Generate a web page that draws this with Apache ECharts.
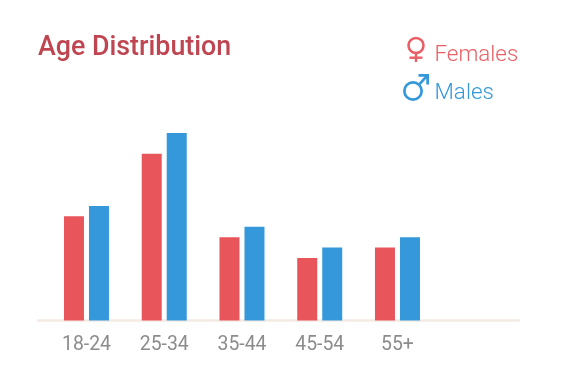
<!DOCTYPE html>
<html>
<head>
<meta charset="utf-8">
<style>html,body{margin:0;padding:0;background:#fff}#c{width:576px;height:390px}</style>
<script src="https://cdn.jsdelivr.net/npm/echarts@6/dist/echarts.min.js"></script>
</head>
<body>
<div id="c"></div>
<script>
var categories = ['18-24', '25-34', '35-44', '45-54', '55+', ''];
var females = [10, 16, 8, 6, 7];
var males = [11, 18, 9, 7, 8];
var femaleColor = '#EA5F65';
var maleColor = '#3498DB';
var chart = echarts.init(document.getElementById('c'), null, {renderer: 'canvas'});
chart.setOption({
  animation: false,
  backgroundColor: '#fff',
  title: {
    text: 'Age Distribution', left: 33, top: 30,
    textStyle: {fontFamily: 'Roboto', fontWeight: 500, fontSize: 26.8, color: '#BF4550'}
  },
  legend: [
    {
      data: [{name: 'Females', icon: 'rect', itemStyle: {opacity: 0}}], left: 424.5, top: 37.5,
      itemWidth: 0, itemHeight: 26, selectedMode: false,
      textStyle: {fontFamily: 'Roboto', fontWeight: 300, fontSize: 22.4, color: '#EA5F65'}
    },
    {
      data: [{name: 'Males', icon: 'rect', itemStyle: {opacity: 0}}], left: 424.5, top: 75.5,
      itemWidth: 0, itemHeight: 26, selectedMode: false,
      textStyle: {fontFamily: 'Roboto', fontWeight: 300, fontSize: 22.4, color: '#3498DB'}
    }
  ],
  graphic: [
    {type: 'ring', shape: {cx: 416, cy: 45.5, r: 8.8, r0: 6.2}, style: {fill: femaleColor}},
    {type: 'rect', shape: {x: 414.8, y: 53.5, width: 2.4, height: 8.5}, style: {fill: femaleColor}},
    {type: 'rect', shape: {x: 409.5, y: 56.5, width: 13, height: 2.4}, style: {fill: femaleColor}},
    {type: 'ring', shape: {cx: 413, cy: 91, r: 10, r0: 7.3}, style: {fill: maleColor}},
    {type: 'polygon', shape: {points: [[418.5, 74], [429, 74], [429, 84.5], [426.3, 84.5], [426.3, 78.6], [420.6, 84.9], [418.7, 83.1], [424.4, 76.7], [418.5, 76.7]]}, style: {fill: maleColor}}
  ],
  grid: [
    {left: 47.6, width: 466.5, top: 133, height: 187.5},
    {left: 38, width: 481, top: 133, height: 187.5}
  ],
  xAxis: [
    {
      type: 'category', data: categories, gridIndex: 0,
      axisLine: {show: false}, axisTick: {show: false},
      axisLabel: {interval: 0, margin: 15, fontFamily: 'Roboto', fontWeight: 400, fontSize: 19.4, color: '#8C8C8C'}
    },
    {
      type: 'category', data: categories, gridIndex: 1,
      axisLine: {show: true, lineStyle: {color: '#F3EAE3', width: 2.5}},
      axisTick: {show: false}, axisLabel: {show: false}
    }
  ],
  yAxis: [
    {type: 'value', min: 0, max: 18, gridIndex: 0, show: false},
    {type: 'value', min: 0, max: 18, gridIndex: 1, show: false}
  ],
  series: [
    {name: 'Females', type: 'bar', data: females, barWidth: 20, barGap: '25%', itemStyle: {color: '#E8565C'}, z: 3},
    {name: 'Males', type: 'bar', data: males, barWidth: 20, barGap: '25%', itemStyle: {color: '#3498DB'}, z: 3}
  ]
});
</script>
</body>
</html>
